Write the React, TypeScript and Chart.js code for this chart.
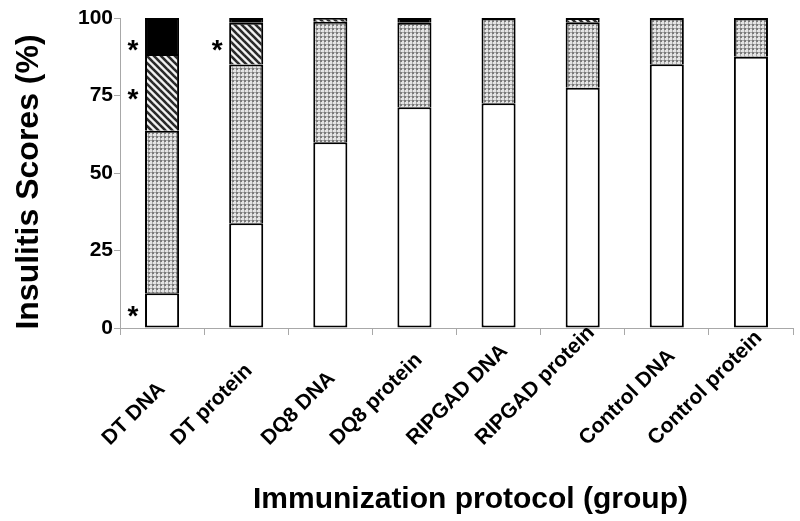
import { useEffect, useRef } from 'react';
import { Chart, registerables } from 'chart.js';

Chart.register(...registerables);

const categories = ['DT DNA', 'DT protein', 'DQ8 DNA', 'DQ8 protein', 'RIPGAD DNA', 'RIPGAD protein', 'Control DNA', 'Control protein'];
const score0 = [11.2, 33.8, 59.9, 71.2, 72.5, 77.5, 85.1, 87.5];
const score1 = [52.4, 51.2, 38.9, 27.3, 27.5, 21.1, 14.9, 12.5];
const score2 = [24.8, 13.5, 1.2, null, null, 1.4, null, null];
const score3 = [11.6, 1.5, null, 1.5, null, null, null, null];
const yTicks = [0, 25, 50, 75, 100];
const starCategories = ['DT DNA', 'DT DNA', 'DT DNA', 'DT protein'];
const starValues = [92, 76, 6, 92];
const yTitle = 'Insulitis Scores (%)';
const xTitle = 'Immunization protocol (group)';

const FONT = '"Liberation Sans", Arial, Helvetica, sans-serif';
const AXIS_GRAY = '#a8a8a8';

function makeDotPattern(): CanvasPattern | string {
  const c = document.createElement('canvas');
  c.width = 4;
  c.height = 4;
  const g = c.getContext('2d');
  if (!g) return '#cccccc';
  g.fillStyle = '#e4e4e4';
  g.fillRect(0, 0, 4, 4);
  g.fillStyle = '#a8a8a8';
  g.fillRect(0, 0, 4, 1);
  g.fillRect(0, 0, 1, 4);
  g.fillStyle = '#7a7a7a';
  g.fillRect(0, 0, 2, 2);
  const p = g.createPattern(c, 'repeat');
  return p || '#cccccc';
}

function makeHatchPattern(): CanvasPattern | string {
  const s = 7;
  const c = document.createElement('canvas');
  c.width = s;
  c.height = s;
  const g = c.getContext('2d');
  if (!g) return '#777777';
  g.fillStyle = '#f2f2f2';
  g.fillRect(0, 0, s, s);
  g.strokeStyle = '#2a2a2a';
  g.lineWidth = 2.6;
  for (const k of [-s, 0, s]) {
    g.beginPath();
    g.moveTo(k - 1, -1);
    g.lineTo(k + s + 1, s + 1);
    g.stroke();
  }
  const p = g.createPattern(c, 'repeat');
  return p || '#777777';
}

const annotPlugin = {
  id: 'annotPlugin',
  afterDraw(chart: any) {
    const { ctx, chartArea, scales } = chart;
    const xs = scales.x;
    const ys = scales.y;
    ctx.save();
    ctx.fillStyle = '#000000';

    // category labels, rotated 45 degrees
    ctx.font = `bold 21px ${FONT}`;
    ctx.textAlign = 'left';
    ctx.textBaseline = 'alphabetic';
    const baseY = chartArea.bottom + 118;
    categories.forEach((c, i) => {
      const cx = xs.getPixelForValue(i);
      const w = ctx.measureText(c).width;
      const endX = cx - 4.7 + 0.11 * w;
      const sx = endX - w * Math.SQRT1_2;
      ctx.save();
      ctx.translate(sx, baseY);
      ctx.rotate(-Math.PI / 4);
      ctx.fillText(c, 0, 0);
      ctx.restore();
    });

    // asterisks
    ctx.font = `bold 28px ${FONT}`;
    ctx.textAlign = 'center';
    const meta = chart.getDatasetMeta(0);
    starCategories.forEach((cat, i) => {
      const idx = categories.indexOf(cat);
      const el = meta.data[idx];
      const left = el.x - el.width / 2;
      const y = ys.getPixelForValue(starValues[i]);
      ctx.fillText('*', left - 12, y + 16);
    });

    // axis titles
    ctx.font = `bold 32px ${FONT}`;
    ctx.save();
    ctx.translate(38, (chartArea.top + chartArea.bottom) / 2 + 9);
    ctx.rotate(-Math.PI / 2);
    ctx.textAlign = 'center';
    ctx.fillText(yTitle, 0, 0);
    ctx.restore();

    ctx.font = `bold 30px ${FONT}`;
    ctx.textAlign = 'center';
    ctx.fillText(xTitle, (chartArea.left + chartArea.right) / 2 + 14, chartArea.bottom + 180);
    ctx.restore();
  },
};

export default function App() {
  const ref = useRef<HTMLCanvasElement | null>(null);

  useEffect(() => {
    const canvas = ref.current;
    if (!canvas) return;
    const dots = makeDotPattern();
    const hatch = makeHatchPattern();
    const common = {
      borderColor: '#000000',
      borderWidth: 2,
      categoryPercentage: 1,
      barPercentage: 0.405,
    };
    const chart = new Chart(canvas, {
      type: 'bar',
      data: {
        labels: categories,
        datasets: [
          { ...common, label: 'Score 0', data: score0, backgroundColor: '#ffffff', borderSkipped: false },
          { ...common, label: 'Score 1', data: score1, backgroundColor: dots as any, borderSkipped: 'start' },
          { ...common, label: 'Score 2', data: score2, backgroundColor: hatch as any, borderSkipped: 'start' },
          { ...common, label: 'Score 3', data: score3, backgroundColor: '#000000', borderSkipped: 'start' },
        ] as any,
      },
      options: {
        animation: false,
        responsive: false,
        maintainAspectRatio: false,
        layout: { padding: { left: 0, top: 18, right: 7, bottom: 0 } },
        plugins: {
          legend: { display: false },
          tooltip: { enabled: false },
          title: { display: false },
        },
        scales: {
          x: {
            stacked: true,
            offset: true,
            grid: {
              offset: true,
              drawOnChartArea: false,
              drawTicks: true,
              tickLength: 7,
              color: AXIS_GRAY,
              lineWidth: 1,
            },
            border: { display: true, color: AXIS_GRAY, width: 1 },
            ticks: { display: false },
            afterFit: (scale: any) => {
              scale.height = 193;
            },
          },
          y: {
            stacked: true,
            min: 0,
            max: 100,
            grid: {
              drawOnChartArea: false,
              drawTicks: true,
              tickLength: 6,
              color: AXIS_GRAY,
              lineWidth: 1,
            },
            border: { display: true, color: AXIS_GRAY, width: 1 },
            ticks: {
              color: '#000000',
              padding: 1,
              font: { family: FONT, size: 21, weight: 'bold' },
            },
            afterBuildTicks: (scale: any) => {
              scale.ticks = yTicks.map((v) => ({ value: v }));
            },
            afterFit: (scale: any) => {
              scale.width = 120;
            },
          },
        },
      } as any,
      plugins: [annotPlugin],
    });
    return () => chart.destroy();
  }, []);

  return (
    <div style={{ position: 'fixed', left: 0, top: 0, width: 800, height: 521, background: '#ffffff' }}>
      <canvas ref={ref} width={800} height={521} style={{ display: 'block', width: 800, height: 521 }} />
    </div>
  );
}
